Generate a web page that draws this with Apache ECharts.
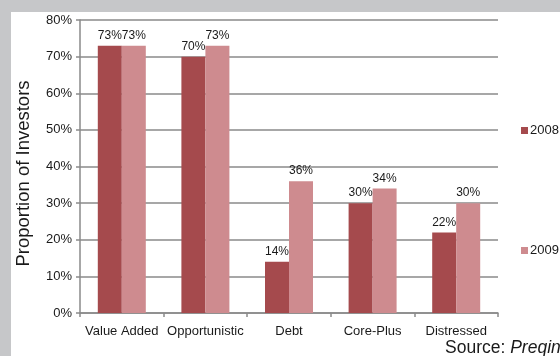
<!DOCTYPE html>
<html><head><meta charset="utf-8">
<script src="https://cdn.jsdelivr.net/npm/echarts@6/dist/echarts.min.js"></script>
<style>html,body{margin:0;padding:0;background:#c6c7c9;}#c{width:560px;height:356px;}</style>
</head><body><div id="c"></div>
<script>
const categories = ['Value Added', 'Opportunistic', 'Debt', 'Core-Plus', 'Distressed'];
const values2008 = [73, 70, 14, 30, 22];
const values2009 = [73, 73, 36, 34, 30];
const seriesNames = ['2008', '2009'];
const yTicks = [0, 10, 20, 30, 40, 50, 60, 70, 80];

const font = '"Liberation Sans", Arial, sans-serif';
const chart = echarts.init(document.getElementById('c'), null, {renderer: 'canvas'});
const lbl = {show: true, position: 'top', distance: 4, color: '#1a1a1a', fontSize: 12, fontFamily: font, formatter: p => p.value + '%'};
const legendText = {fontSize: 13, fontFamily: font, color: '#1a1a1a', padding: [0, 0, 0, -3]};
chart.setOption({
  animation: false,
  backgroundColor: '#c6c7c9',
  graphic: [
    {type: 'rect', left: 11, top: 12, shape: {width: 560, height: 356}, style: {fill: '#ffffff'}, z: -10},
    {type: 'text', left: 445, top: 339, style: {rich: {a: {fontSize: 17.5, fontFamily: font, fill: '#1a1a1a'}, b: {fontSize: 17.5, fontFamily: font, fontStyle: 'italic', fill: '#1a1a1a'}}, text: '{a|Source: }{b|Preqin}'}}
  ],
  grid: {left: 80, right: 62, top: 20, bottom: 43},
  legend: [
    {data: [seriesNames[0]], left: 516, top: 119, orient: 'vertical', itemWidth: 7, itemHeight: 7, icon: 'rect', textStyle: legendText},
    {data: [seriesNames[1]], left: 516, top: 239, orient: 'vertical', itemWidth: 7, itemHeight: 7, icon: 'rect', textStyle: legendText}
  ],
  xAxis: {
    type: 'category', data: categories,
    axisLine: {lineStyle: {color: '#8a8a8a', width: 1.5}},
    axisTick: {show: true, length: 4, lineStyle: {color: '#8a8a8a', width: 1.5}},
    axisLabel: {color: '#1a1a1a', fontSize: 13, fontFamily: font, margin: 12, interval: 0}
  },
  yAxis: {
    type: 'value', min: yTicks[0], max: yTicks[yTicks.length - 1], interval: 10,
    name: 'Proportion of Investors', nameLocation: 'middle', nameGap: 47,
    nameTextStyle: {fontSize: 18.5, fontFamily: font, color: '#1a1a1a', padding: [0, 14, 0, 0]},
    axisLine: {show: true, lineStyle: {color: '#8a8a8a', width: 1.5}},
    axisTick: {show: true, length: 4, lineStyle: {color: '#8a8a8a', width: 1.5}},
    axisLabel: {color: '#1a1a1a', fontSize: 13, fontFamily: font, margin: 8, formatter: v => v + '%'},
    splitLine: {lineStyle: {color: '#8a8a8a', width: 1.5}}
  },
  series: [
    {name: seriesNames[0], type: 'bar', data: values2008, barWidth: 24, barGap: '0%', itemStyle: {color: '#a54a4d'}, label: lbl},
    {name: seriesNames[1], type: 'bar', data: values2009, barWidth: 24, barGap: '0%', itemStyle: {color: '#ce8b8f'}, label: lbl}
  ]
});
</script></body></html>
